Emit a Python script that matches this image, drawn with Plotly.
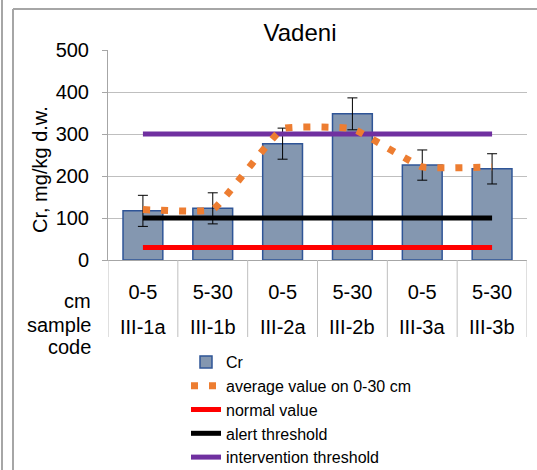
import plotly.graph_objects as go

# ---- data ----
sample_codes = ["III-1a", "III-1b", "III-2a", "III-2b", "III-3a", "III-3b"]
depths = ["0-5", "5-30", "0-5", "5-30", "0-5", "5-30"]
cr_values = [117, 123, 277, 348, 226, 217]
cr_errors = [37, 37, 37, 38, 36, 36]
avg_values = [120, 120, 312.5, 312.5, 221.5, 221.5]
normal_value = [30, 30, 30, 30, 30, 30]
alert_threshold = [100, 100, 100, 100, 100, 100]
intervention_threshold = [300, 300, 300, 300, 300, 300]
y_ticks = [0, 100, 200, 300, 400, 500]

W, H = 537, 470
L, R, T, B = 108, 10, 50, 210
PW, PH = W - L - R, H - T - B

def px_x(p):
    return (p - L) / PW

def px_y(p):
    return (T + PH - p) / PH

FONT = "Liberation Sans, Arial, sans-serif"
x = sample_codes

fig = go.Figure()
fig.add_trace(go.Bar(
    x=x, y=cr_values, name="Cr", width=0.57,
    marker=dict(color="#8497B0", line=dict(color="#2F5597", width=1.5)),
    error_y=dict(type="data", array=cr_errors, color="#000000", thickness=1, width=5),
    legendrank=1,
))
fig.add_trace(go.Scatter(
    x=x, y=normal_value, name="normal value", mode="lines",
    line=dict(color="#FF0000", width=5), legendrank=3,
))
fig.add_trace(go.Scatter(
    x=x, y=alert_threshold, name="alert threshold", mode="lines",
    line=dict(color="#000000", width=5), legendrank=4,
))
fig.add_trace(go.Scatter(
    x=x, y=intervention_threshold, name="intervention threshold", mode="lines",
    line=dict(color="#7030A0", width=5), legendrank=5,
))
fig.add_trace(go.Scatter(
    x=x, y=avg_values, name="average value on 0-30 cm", mode="lines",
    line=dict(color="#ED7D31", width=7, dash="7px,11px", shape="spline", smoothing=0.3),
    legendrank=2,
))

gray = "#A6A6A6"
shapes = [
    dict(type="line", xref="paper", yref="paper", x0=px_x(2), x1=px_x(2), y0=px_y(0), y1=px_y(H),
         line=dict(color=gray, width=2)),
    dict(type="line", xref="paper", yref="paper", x0=px_x(13), x1=px_x(13), y0=px_y(9), y1=px_y(H),
         line=dict(color=gray, width=2)),
    dict(type="line", xref="paper", yref="paper", x0=px_x(13), x1=px_x(W), y0=px_y(9), y1=px_y(9),
         line=dict(color=gray, width=2)),
]
# category dividers below the axis
for i in range(len(sample_codes) + 1):
    shapes.append(dict(type="line", xref="x", yref="paper", x0=i - 0.5, x1=i - 0.5,
                       y0=0, y1=px_y(337), line=dict(color="#BFBFBF", width=1)))

annotations = []
for text, yc in [("cm", 301), ("sample", 325), ("code", 347)]:
    annotations.append(dict(text=text, xref="paper", yref="paper", x=px_x(93), y=px_y(yc),
                            xanchor="right", yanchor="middle", showarrow=False,
                            font=dict(family=FONT, size=20, color="#000000")))
for code in sample_codes:
    annotations.append(dict(text=code, xref="x", yref="paper", x=code, y=px_y(327),
                            xanchor="center", yanchor="middle", showarrow=False,
                            font=dict(family=FONT, size=20, color="#000000")))
annotations.append(dict(text="Cr, mg/kg d.w.", xref="paper", yref="paper", x=px_x(40), y=px_y(170),
                        xanchor="center", yanchor="middle", textangle=-90, showarrow=False,
                        font=dict(family=FONT, size=20, color="#000000")))

fig.update_layout(
    width=W, height=H,
    margin=dict(l=L, r=R, t=T, b=B, autoexpand=False),
    paper_bgcolor="white", plot_bgcolor="white",
    font=dict(family=FONT, size=20, color="#000000"),
    title=dict(text="Vadeni", x=300 / W, y=1 - 33 / H, xref="container", yref="container",
               xanchor="center", yanchor="middle", font=dict(family=FONT, size=24, color="#000000")),
    showlegend=True,
    legend=dict(x=px_x(186), y=px_y(345), xanchor="left", yanchor="top",
                font=dict(family=FONT, size=16, color="#000000"),
                bgcolor="rgba(0,0,0,0)", tracegroupgap=0, itemclick=False),
    shapes=shapes,
    annotations=annotations,
)
fig.update_yaxes(
    range=[0, 500], tickvals=y_ticks, showgrid=True, gridcolor="#BFBFBF", gridwidth=1,
    showline=True, linecolor=gray, linewidth=1, ticks="outside", ticklen=5, tickcolor=gray,
    tickfont=dict(family=FONT, size=20), zeroline=False, ticklabelstandoff=9,
)
fig.update_xaxes(
    type="category", range=[-0.5, len(sample_codes) - 0.5],
    showline=True, linecolor=gray, linewidth=1,
    tickvals=sample_codes, ticktext=depths, ticks="", ticklabelstandoff=14,
    tickfont=dict(family=FONT, size=20), showgrid=False,
)

fig.write_html("out.html")
